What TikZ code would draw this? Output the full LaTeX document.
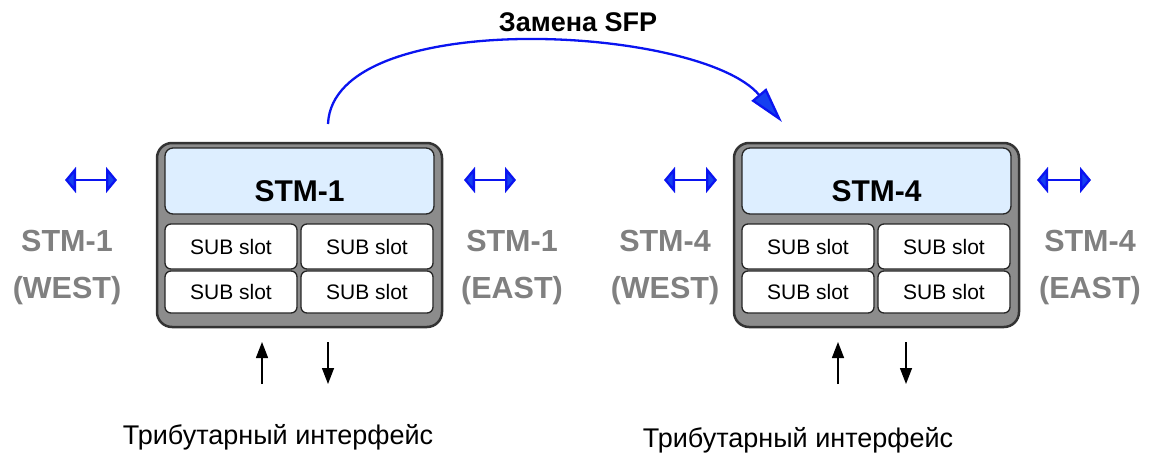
\documentclass[tikz,border=0pt]{standalone}
\usepackage{fontspec}
\setmainfont{Liberation Sans}
\usetikzlibrary{arrows.meta}
\definecolor{frame}{HTML}{333333}
\definecolor{chassis}{HTML}{8C8C8C}
\definecolor{cardtop}{HTML}{DDEEFF}
\definecolor{sidegray}{HTML}{808080}
\definecolor{linkblue}{HTML}{0A14F0}
\definecolor{headblue}{HTML}{1540F0}
\tikzset{
  chassisbox/.style={draw=frame, line width=2.5pt, fill=chassis, rounded corners=15pt,
    minimum width=285pt, minimum height=184pt, inner sep=0pt},
  topbox/.style={draw=black!85, line width=1.3pt, fill=cardtop, rounded corners=8pt,
    minimum width=269pt, minimum height=66pt, inner sep=0pt},
  subbox/.style={draw=black!85, line width=1.3pt, fill=white, rounded corners=6pt,
    minimum width=132pt, inner sep=0pt, font=\fontsize{21}{25}\selectfont},
  boardname/.style={font=\bfseries\fontsize{30}{34}\selectfont, inner sep=0pt},
  sidelabel/.style={font=\bfseries\fontsize{30.5}{47}\selectfont, text=sidegray, align=center, inner sep=0pt},
  sidelink/.style={draw=linkblue, line width=2.3pt,
    {Triangle[length=11pt,width=26pt,fill=headblue]}-{Triangle[length=11pt,width=26pt,fill=headblue]}},
  tribarrow/.style={draw=black, line width=1.4pt, -{Triangle[length=16pt,width=12pt]}},
  tribtext/.style={font=\fontsize{27}{31}\selectfont, inner sep=0pt},
  pics/module/.style={code={
    \node[chassisbox] (outer) at (142.5,92) {};
    \node[topbox] (top) at (142.5,38) {};
    \node[boardname] (name) at (142.5,48) {#1};
    \node[subbox, minimum height=45pt] (s1) at (74,103.5) {SUB slot};
    \node[subbox, minimum height=45pt] (s2) at (210,103.5) {SUB slot};
    \node[subbox, minimum height=42pt] (s3) at (74,149) {SUB slot};
    \node[subbox, minimum height=42pt] (s4) at (210,149) {SUB slot};
  }}
}
\begin{document}
\begin{tikzpicture}[x=1pt,y=-1pt]
\useasboundingbox (0,0) rectangle (1154,458);

% the two multiplexer boards
\pic (A) at (157,143) {module=STM-1};
\pic (B) at (734,143) {module=STM-4};

% aggregate line labels
\node[sidelabel] (aw) at (67,268) {STM-1\\(WEST)};
\node[sidelabel] (ae) at (512,268) {STM-1\\(EAST)};
\node[sidelabel] (bw) at (665,268) {STM-4\\(WEST)};
\node[sidelabel] (be) at (1090,268) {STM-4\\(EAST)};

% aggregate line directions
\coordinate (awl) at (65,180);  \coordinate (awr) at (117,180);
\coordinate (ael) at (464,180); \coordinate (aer) at (516,180);
\coordinate (bwl) at (664,180); \coordinate (bwr) at (717,180);
\coordinate (bel) at (1037,180);\coordinate (ber) at (1091,180);
\draw[sidelink] (awl) -- (awr);
\draw[sidelink] (ael) -- (aer);
\draw[sidelink] (bwl) -- (bwr);
\draw[sidelink] (bel) -- (ber);

% SFP replacement
\coordinate (sfpfrom) at (328,124);
\coordinate (sfpto) at (782,122);
\draw[draw=linkblue, line width=2.3pt, -{Triangle[length=36pt,width=19pt,fill=headblue]}]
  (sfpfrom) .. controls (333,6) and (700,25) .. (sfpto);
\node[font=\bfseries\fontsize{27}{30}\selectfont, inner sep=0pt] (sfp) at (578,22) {Замена SFP};

% tributary in/out
\coordinate (a1b) at (262,384); \coordinate (a1t) at (262,342);
\coordinate (a2t) at (328,342); \coordinate (a2b) at (328,384);
\coordinate (b1b) at (838,384); \coordinate (b1t) at (838,342);
\coordinate (b2t) at (906,342); \coordinate (b2b) at (906,384);
\draw[tribarrow] (a1b) -- (a1t);
\draw[tribarrow] (a2t) -- (a2b);
\draw[tribarrow] (b1b) -- (b1t);
\draw[tribarrow] (b2t) -- (b2b);
\node[tribtext] (ta) at (278,437) {Трибутарный интерфейс};
\node[tribtext] (tb) at (798,440) {Трибутарный интерфейс};
\end{tikzpicture}
\end{document}
